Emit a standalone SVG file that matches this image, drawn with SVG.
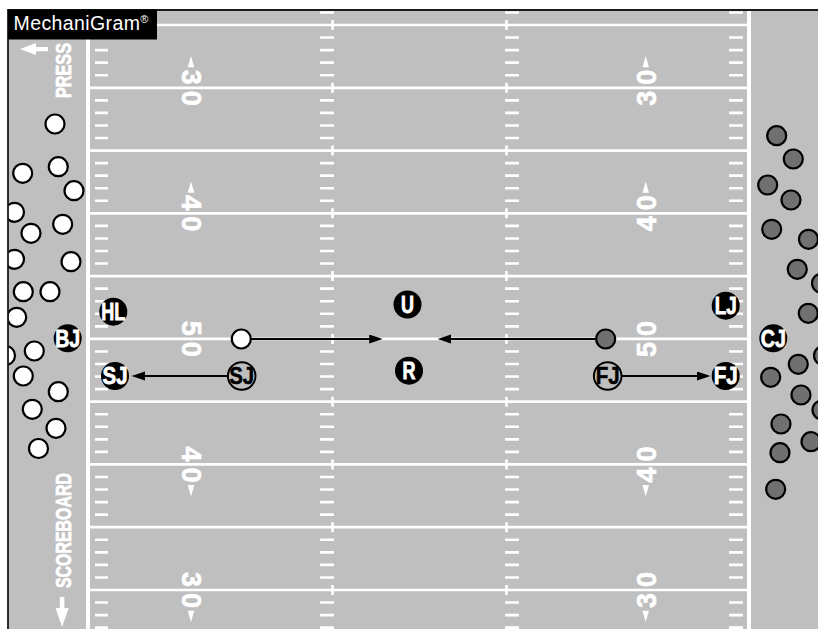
<svg xmlns="http://www.w3.org/2000/svg" width="818" height="629" viewBox="0 0 818 629">
<defs>
<style>
.wl{stroke:#fff;stroke-width:2.7;fill:none}
.hash{stroke:#fff;stroke-width:2.6;fill:none}
.num{font-family:"Liberation Sans",Arial,sans-serif;font-weight:bold;font-size:27px;fill:#fff;stroke:#fff;stroke-width:0.6;text-anchor:middle}
.tri{fill:#fff}
.side{font-family:"Liberation Sans",Arial,sans-serif;font-weight:bold;font-size:22px;fill:#fff;stroke:#fff;stroke-width:0.7}
.tm{fill:#fff;stroke:#000;stroke-width:2.2}
.op{fill:#707070;stroke:#000;stroke-width:2.2}
.off circle{fill:#000}
.off text{font-family:"Liberation Sans",Arial,sans-serif;font-weight:bold;font-size:23px;fill:#fff;stroke:#fff;stroke-width:0.8;text-anchor:middle}
.ring circle{fill:#bfbfbf;stroke:#000;stroke-width:2}
.ring text{font-family:"Liberation Sans",Arial,sans-serif;font-weight:bold;font-size:23px;fill:#000;stroke:#000;stroke-width:0.5;text-anchor:middle}
.conn{stroke:#000;stroke-width:2;fill:none}
.brand{font-family:"Liberation Sans",Arial,sans-serif;font-size:19.5px;fill:#fff;letter-spacing:0.4px}
</style>
<marker id="ah" markerUnits="userSpaceOnUse" markerWidth="14" markerHeight="10" refX="9.5" refY="4.5" orient="auto">
<path d="M0,0 L13.5,4.5 L0,9 Z" fill="#000"/>
</marker>
<clipPath id="fc"><rect x="8" y="10" width="810" height="619"/></clipPath>
</defs>
<rect x="0" y="0" width="818" height="629" fill="#fff"/>
<g id="field">
<rect x="8" y="10" width="810" height="619" fill="#bfbfbf"/>
<rect x="86" y="10" width="4" height="619" fill="#fff"/>
<rect x="747" y="10" width="4" height="619" fill="#fff"/>
<path class="wl" d="M90,25H747M90,87.78H747M90,150.56H747M90,213.33H747M90,276.11H747M90,338.89H747M90,401.67H747M90,464.44H747M90,527.22H747M90,590H747"/>
<path class="hash" d="M332.5,20v10M332.5,82.78v10M332.5,145.56v10M332.5,208.33v10M332.5,271.11v10M332.5,333.89v10M332.5,396.67v10M332.5,459.44v10M332.5,522.22v10M332.5,585v10M506.5,20v10M506.5,82.78v10M506.5,145.56v10M506.5,208.33v10M506.5,271.11v10M506.5,333.89v10M506.5,396.67v10M506.5,459.44v10M506.5,522.22v10M506.5,585v10"/>
<path class="hash" d="M95,12.44h13M95,37.56h13M95,50.11h13M95,62.67h13M95,75.22h13M95,100.33h13M95,112.89h13M95,125.44h13M95,138h13M95,163.11h13M95,175.67h13M95,188.22h13M95,200.78h13M95,225.89h13M95,238.44h13M95,251h13M95,263.56h13M95,288.67h13M95,301.22h13M95,313.78h13M95,326.33h13M95,351.44h13M95,364h13M95,376.56h13M95,389.11h13M95,414.22h13M95,426.78h13M95,439.33h13M95,451.89h13M95,477h13M95,489.56h13M95,502.11h13M95,514.67h13M95,539.78h13M95,552.33h13M95,564.89h13M95,577.44h13M95,602.56h13M95,615.11h13M95,627.67h13"/>
<path class="hash" d="M320,12.44h14M320,37.56h14M320,50.11h14M320,62.67h14M320,75.22h14M320,100.33h14M320,112.89h14M320,125.44h14M320,138h14M320,163.11h14M320,175.67h14M320,188.22h14M320,200.78h14M320,225.89h14M320,238.44h14M320,251h14M320,263.56h14M320,288.67h14M320,301.22h14M320,313.78h14M320,326.33h14M320,351.44h14M320,364h14M320,376.56h14M320,389.11h14M320,414.22h14M320,426.78h14M320,439.33h14M320,451.89h14M320,477h14M320,489.56h14M320,502.11h14M320,514.67h14M320,539.78h14M320,552.33h14M320,564.89h14M320,577.44h14M320,602.56h14M320,615.11h14M320,627.67h14"/>
<path class="hash" d="M505,12.44h14M505,37.56h14M505,50.11h14M505,62.67h14M505,75.22h14M505,100.33h14M505,112.89h14M505,125.44h14M505,138h14M505,163.11h14M505,175.67h14M505,188.22h14M505,200.78h14M505,225.89h14M505,238.44h14M505,251h14M505,263.56h14M505,288.67h14M505,301.22h14M505,313.78h14M505,326.33h14M505,351.44h14M505,364h14M505,376.56h14M505,389.11h14M505,414.22h14M505,426.78h14M505,439.33h14M505,451.89h14M505,477h14M505,489.56h14M505,502.11h14M505,514.67h14M505,539.78h14M505,552.33h14M505,564.89h14M505,577.44h14M505,602.56h14M505,615.11h14M505,627.67h14"/>
<path class="hash" d="M729,12.44h14M729,37.56h14M729,50.11h14M729,62.67h14M729,75.22h14M729,100.33h14M729,112.89h14M729,125.44h14M729,138h14M729,163.11h14M729,175.67h14M729,188.22h14M729,200.78h14M729,225.89h14M729,238.44h14M729,251h14M729,263.56h14M729,288.67h14M729,301.22h14M729,313.78h14M729,326.33h14M729,351.44h14M729,364h14M729,376.56h14M729,389.11h14M729,414.22h14M729,426.78h14M729,439.33h14M729,451.89h14M729,477h14M729,489.56h14M729,502.11h14M729,514.67h14M729,539.78h14M729,552.33h14M729,564.89h14M729,577.44h14M729,602.56h14M729,615.11h14M729,627.67h14"/>
<!-- left numbers -->
<g transform="translate(192,87.78) rotate(90)"><text class="num" x="-10.5" y="9.7">3</text><text class="num" x="10.5" y="9.7">0</text></g>
<g transform="translate(192,213.33) rotate(90)"><text class="num" x="-10.5" y="9.7">4</text><text class="num" x="10.5" y="9.7">0</text></g>
<g transform="translate(192,338.89) rotate(90)"><text class="num" x="-10.5" y="9.7">5</text><text class="num" x="10.5" y="9.7">0</text></g>
<g transform="translate(192,464.44) rotate(90)"><text class="num" x="-10.5" y="9.7">4</text><text class="num" x="10.5" y="9.7">0</text></g>
<g transform="translate(192,590) rotate(90)"><text class="num" x="-10.5" y="9.7">3</text><text class="num" x="10.5" y="9.7">0</text></g>
<!-- right numbers -->
<g transform="translate(645.8,87.78) rotate(-90)"><text class="num" x="-10.5" y="9.7">3</text><text class="num" x="10.5" y="9.7">0</text></g>
<g transform="translate(645.8,213.33) rotate(-90)"><text class="num" x="-10.5" y="9.7">4</text><text class="num" x="10.5" y="9.7">0</text></g>
<g transform="translate(645.8,338.89) rotate(-90)"><text class="num" x="-10.5" y="9.7">5</text><text class="num" x="10.5" y="9.7">0</text></g>
<g transform="translate(645.8,464.44) rotate(-90)"><text class="num" x="-10.5" y="9.7">4</text><text class="num" x="10.5" y="9.7">0</text></g>
<g transform="translate(645.8,590) rotate(-90)"><text class="num" x="-10.5" y="9.7">3</text><text class="num" x="10.5" y="9.7">0</text></g>
<!-- direction triangles -->
<polygon class="tri" points="191,56 187.7,67.3 194.3,67.3"/>
<polygon class="tri" points="191,181.5 187.7,192.8 194.3,192.8"/>
<polygon class="tri" points="191,496.4 187.7,485.1 194.3,485.1"/>
<polygon class="tri" points="191,622 187.7,610.7 194.3,610.7"/>
<polygon class="tri" points="645.7,56 642.4,67.3 649,67.3"/>
<polygon class="tri" points="645.7,181.5 642.4,192.8 649,192.8"/>
<polygon class="tri" points="645.7,496.4 642.4,485.1 649,485.1"/>
<polygon class="tri" points="645.7,622 642.4,610.7 649,610.7"/>
<!-- sideline labels -->
<polygon fill="#fff" points="20,49 36,43 36,47 48,47 48,51.2 36,51.2 36,55"/>
<text class="side" transform="translate(71,98) rotate(-90)" textLength="55" lengthAdjust="spacingAndGlyphs">PRESS</text>
<text class="side" transform="translate(71,588) rotate(-90)" textLength="115" lengthAdjust="spacingAndGlyphs">SCOREBOARD</text>
<polygon fill="#fff" points="59.8,597 64.4,597 64.4,608 68.7,608 62.1,627 55.5,608 59.8,608"/>
</g>
<g id="team-left" clip-path="url(#fc)">
<circle class="tm" cx="55" cy="124" r="9.5"/>
<circle class="tm" cx="58.3" cy="166.7" r="9.5"/>
<circle class="tm" cx="22.7" cy="173.3" r="9.5"/>
<circle class="tm" cx="74" cy="190.7" r="9.5"/>
<circle class="tm" cx="14.5" cy="212.3" r="9.5"/>
<circle class="tm" cx="62.7" cy="224.3" r="9.5"/>
<circle class="tm" cx="31" cy="233.3" r="9.5"/>
<circle class="tm" cx="14.5" cy="259.3" r="9.5"/>
<circle class="tm" cx="71" cy="261.7" r="9.5"/>
<circle class="tm" cx="23.3" cy="291.7" r="9.5"/>
<circle class="tm" cx="50" cy="291.7" r="9.5"/>
<circle class="tm" cx="16.7" cy="317.3" r="9.5"/>
<circle class="tm" cx="34.3" cy="351" r="9.5"/>
<circle class="tm" cx="5.5" cy="355.5" r="9.5"/>
<circle class="tm" cx="23.3" cy="376" r="9.5"/>
<circle class="tm" cx="58.3" cy="391.7" r="9.5"/>
<circle class="tm" cx="32.3" cy="409.3" r="9.5"/>
<circle class="tm" cx="56" cy="428.3" r="9.5"/>
<circle class="tm" cx="38.5" cy="448.5" r="9.5"/>
</g>
<g id="team-right">
<circle class="op" cx="776.7" cy="135.7" r="9.5"/>
<circle class="op" cx="793.3" cy="159" r="9.5"/>
<circle class="op" cx="767.7" cy="185" r="9.5"/>
<circle class="op" cx="791" cy="200" r="9.5"/>
<circle class="op" cx="771.7" cy="229.3" r="9.5"/>
<circle class="op" cx="808.5" cy="239.3" r="9.5"/>
<circle class="op" cx="797.3" cy="269.3" r="9.5"/>
<circle class="op" cx="821.5" cy="283.3" r="9.5"/>
<circle class="op" cx="808.3" cy="313.3" r="9.5"/>
<circle class="op" cx="823.5" cy="355.5" r="9.5"/>
<circle class="op" cx="798.3" cy="364.3" r="9.5"/>
<circle class="op" cx="770.7" cy="377.3" r="9.5"/>
<circle class="op" cx="801" cy="395" r="9.5"/>
<circle class="op" cx="822" cy="410" r="9.5"/>
<circle class="op" cx="781" cy="424" r="9.5"/>
<circle class="op" cx="811" cy="441.7" r="9.5"/>
<circle class="op" cx="780" cy="452.7" r="9.5"/>
<circle class="op" cx="775.7" cy="489.3" r="9.5"/>
</g>
<g id="connectors">
<line class="conn" x1="227.7" y1="376" x2="135.5" y2="376" marker-end="url(#ah)"/>
<line class="conn" x1="621.7" y1="376" x2="706.5" y2="376" marker-end="url(#ah)"/>
<line class="conn" x1="251" y1="339" x2="378.7" y2="339" marker-end="url(#ah)"/>
<line class="conn" x1="595.7" y1="339" x2="441.7" y2="339" marker-end="url(#ah)"/>
</g>
<g id="start-white"><circle class="tm" cx="241.3" cy="339" r="9.5"/></g>
<g id="start-gray"><circle class="op" cx="605.7" cy="339" r="9.5"/></g>
<g id="HL" class="off"><circle cx="113.3" cy="311.7" r="14"/><text x="113.3" y="320" textLength="24" lengthAdjust="spacingAndGlyphs">HL</text></g>
<g id="BJ" class="off"><circle cx="67.7" cy="338.3" r="14"/><text x="67.7" y="346.6" textLength="25" lengthAdjust="spacingAndGlyphs">BJ</text></g>
<g id="SJ-end" class="off"><circle cx="115" cy="376" r="14"/><text x="115" y="384.3" textLength="25" lengthAdjust="spacingAndGlyphs">SJ</text></g>
<g id="U" class="off"><circle cx="407.5" cy="304.5" r="14"/><text x="407.5" y="312.8" textLength="13" lengthAdjust="spacingAndGlyphs">U</text></g>
<g id="R" class="off"><circle cx="409" cy="370.7" r="14"/><text x="409" y="379" textLength="13" lengthAdjust="spacingAndGlyphs">R</text></g>
<g id="LJ" class="off"><circle cx="725.7" cy="305.7" r="14"/><text x="725.7" y="314" textLength="22" lengthAdjust="spacingAndGlyphs">LJ</text></g>
<g id="CJ" class="off"><circle cx="773.3" cy="338.3" r="14"/><text x="773.3" y="346.6" textLength="25" lengthAdjust="spacingAndGlyphs">CJ</text></g>
<g id="FJ-end" class="off"><circle cx="725.7" cy="376" r="14"/><text x="725.7" y="384.3" textLength="24" lengthAdjust="spacingAndGlyphs">FJ</text></g>
<g id="SJ-start" class="ring"><circle cx="241.7" cy="376" r="13.8"/><text x="241.7" y="384.3" textLength="25" lengthAdjust="spacingAndGlyphs">SJ</text></g>
<g id="FJ-start" class="ring"><circle cx="607.7" cy="376" r="13.8"/><text x="607.7" y="384.3" textLength="24" lengthAdjust="spacingAndGlyphs">FJ</text></g>
<g id="border">
<path d="M8,629V10H818" fill="none" stroke="#1a1a1a" stroke-width="1.8"/>
</g>
<g id="brand">
<rect x="8" y="9.5" width="149" height="30" fill="#000"/>
<text class="brand" x="13.5" y="29.5">MechaniGram<tspan font-size="11" dy="-7" letter-spacing="0">®</tspan></text>
</g>
</svg>
